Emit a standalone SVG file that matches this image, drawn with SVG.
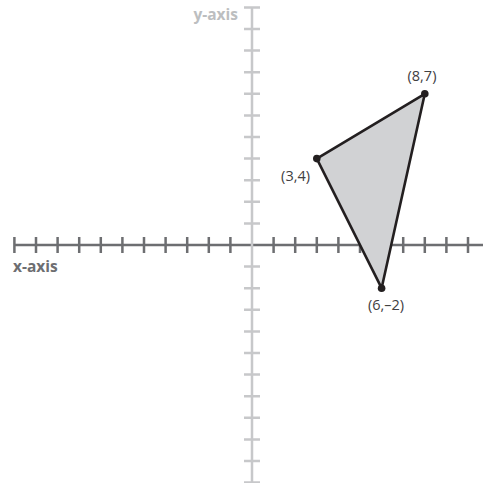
<svg xmlns="http://www.w3.org/2000/svg" width="483" height="483" viewBox="0 0 483 483">
<style>
.xa{stroke:#6d6e71;stroke-width:2.5;fill:none}
.ya{stroke:#c7c8ca;stroke-width:2.5;fill:none}
.lbl{font-family:"Open Sans","Noto Sans",sans-serif;font-size:14.5px;fill:#414042}
.ax{font-family:"Open Sans","Noto Sans",sans-serif;font-size:15.5px;font-weight:bold}
.tri{fill:#d1d2d4;stroke:#231f20;stroke-width:2.6;stroke-linejoin:round}
.pt{fill:#231f20}
</style>
<rect width="483" height="483" fill="#ffffff"/>
<g id="x-axis">
<path class="xa" d="M14.4 245H483"/>
<path class="xa" d="M14.4 237v16M36 237v16M57.6 237v16M79.2 237v16M100.8 237v16M122.4 237v16M144 237v16M165.6 237v16M187.2 237v16M208.8 237v16M230.4 237v16M273.6 237v16M295.2 237v16M316.8 237v16M338.4 237v16M360 237v16M381.6 237v16M403.2 237v16M424.8 237v16M446.4 237v16M468 237v16"/>
<text class="ax" x="13" y="272" fill="#6d6e71">x-axis</text>
</g>
<g id="y-axis">
<path class="ya" d="M252 7.4V482.6"/>
<path class="ya" d="M244 7.4h16M244 29h16M244 50.6h16M244 72.2h16M244 93.8h16M244 115.4h16M244 137h16M244 158.6h16M244 180.2h16M244 201.8h16M244 223.4h16M244 266.6h16M244 288.2h16M244 309.8h16M244 331.4h16M244 353h16M244 374.6h16M244 396.2h16M244 417.8h16M244 439.4h16M244 461h16M244 482.6h16"/>
<text class="ax" x="238" y="20" text-anchor="end" fill="#bcbec0">y-axis</text>
</g>
<g id="triangle">
<polygon class="tri" points="316.8,158.6 424.8,93.8 381.6,288.2"/>
</g>
<g id="p34">
<circle class="pt" cx="316.8" cy="158.6" r="3.8"/>
<text class="lbl" x="310" y="181" text-anchor="end">(3,4)</text>
</g>
<g id="p87">
<circle class="pt" cx="424.8" cy="93.8" r="3.8"/>
<text class="lbl" x="422" y="81" text-anchor="middle">(8,7)</text>
</g>
<g id="p6m2">
<circle class="pt" cx="381.6" cy="288.2" r="3.8"/>
<text class="lbl" x="386" y="310" text-anchor="middle">(6,–2)</text>
</g>
</svg>
